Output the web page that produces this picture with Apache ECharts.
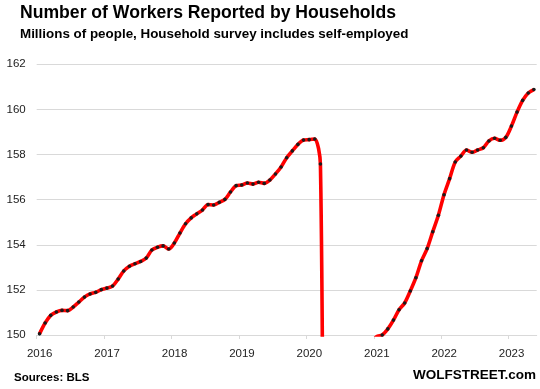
<!DOCTYPE html>
<html>
<head>
<meta charset="utf-8">
<script src="https://cdn.jsdelivr.net/npm/echarts@6/dist/echarts.min.js"></script>
<style>
html,body{margin:0;padding:0;background:#ffffff;}
#chart{width:540px;height:389px;}
</style>
</head>
<body>
<div id="chart"></div>
<script>
// ---- Data (millions of workers, monthly, Jan of each year first) ----
const years = [2016, 2017, 2018, 2019, 2020, 2021, 2022, 2023];
const workers2016 = [150.05, 150.53, 150.87, 151.02, 151.09, 151.08, 151.24, 151.46, 151.68, 151.82, 151.89, 152.01];
const workers2017 = [152.08, 152.17, 152.48, 152.84, 153.05, 153.16, 153.26, 153.41, 153.77, 153.89, 153.95, 153.81];
const workers2018 = [154.08, 154.52, 154.93, 155.19, 155.37, 155.54, 155.78, 155.76, 155.88, 156.01, 156.34, 156.62];
const workers2019 = [156.65, 156.74, 156.69, 156.77, 156.72, 156.87, 157.14, 157.45, 157.86, 158.16, 158.45, 158.64];
const workers2020 = [158.66, 158.69, 157.58, 133.4, 137.2, 142.2, 143.5, 147.0, 147.6, 148.8, 149.2, 149.6];
const workers2021 = [149.93, 150.00, 150.27, 150.66, 151.12, 151.42, 151.95, 152.54, 153.29, 153.83, 154.58, 155.31];
const workers2022 = [156.22, 156.93, 157.67, 157.93, 158.20, 158.10, 158.20, 158.30, 158.60, 158.72, 158.63, 158.76];
const workers2023 = [159.26, 159.88, 160.40, 160.73, 160.88];
const yearlyValues = [workers2016, workers2017, workers2018, workers2019, workers2020, workers2021, workers2022, workers2023];
const yTicks = [150, 152, 154, 156, 158, 160, 162];

const titleText = 'Number of Workers Reported by Households';
const subtitleText = 'Millions of people, Household survey includes self-employed';
const sourceText = 'Sources: BLS';
const brandText = 'WOLFSTREET.com';

// Build [decimal-year (mid-month), value] pairs for the value x-axis
const seriesData = [];
yearlyValues.forEach((arr, yi) => {
  arr.forEach((v, mi) => {
    seriesData.push([years[yi] + (mi + 0.5) / 12, v]);
  });
});

const chart = echarts.init(document.getElementById('chart'), null, {renderer: 'canvas'});
const fontFam = '"Liberation Sans", Arial, sans-serif';

chart.setOption({
  animation: false,
  backgroundColor: '#ffffff',
  title: [
    {text: titleText, left: 20, top: 4, padding: 0,
     textStyle: {fontFamily: fontFam, fontWeight: 'bold', fontSize: 17.6, color: '#000000'}},
    {text: subtitleText, left: 20, top: 28, padding: 0,
     textStyle: {fontFamily: fontFam, fontWeight: 'bold', fontSize: 13.4, color: '#000000'}},
    {text: sourceText, left: 14, top: 372, padding: 0,
     textStyle: {fontFamily: fontFam, fontWeight: 'bold', fontSize: 11.5, color: '#000000'}},
    {text: brandText, right: 4, top: 368, padding: 0,
     textStyle: {fontFamily: fontFam, fontWeight: 'bold', fontSize: 13.5, color: '#000000'}}
  ],
  grid: {left: 36.7, right: 3.3, top: 64.3, bottom: 54, containLabel: false},
  xAxis: {
    type: 'value',
    min: years[0],
    max: 2023 + 5 / 12,
    interval: 1,
    splitLine: {show: false},
    axisLine: {show: true, lineStyle: {color: '#d9d9d9', width: 1}},
    axisTick: {show: true, length: 4, lineStyle: {color: '#d9d9d9'}, customValues: years},
    axisLabel: {
      customValues: years,
      formatter: v => (Number.isInteger(v) ? String(v) : ''),
      fontFamily: fontFam, fontSize: 11.5, color: '#222222', margin: 13,
      padding: [0, 0, 0, 6]
    }
  },
  yAxis: {
    type: 'value',
    min: yTicks[0],
    max: yTicks[yTicks.length - 1],
    interval: 2,
    axisLine: {show: false},
    axisTick: {show: false},
    splitLine: {show: true, lineStyle: {color: '#d9d9d9', width: 1}},
    axisLabel: {fontFamily: fontFam, fontSize: 11.5, color: '#222222', margin: 11}
  },
  series: [{
    type: 'line',
    data: seriesData,
    smooth: 0.3,
    clip: true,
    symbol: 'circle',
    symbolSize: 3.6,
    itemStyle: {color: '#1a1a1a', borderWidth: 0},
    lineStyle: {color: '#ff0000', width: 3.6},
    emphasis: {disabled: true}
  }]
});
</script>
</body>
</html>
